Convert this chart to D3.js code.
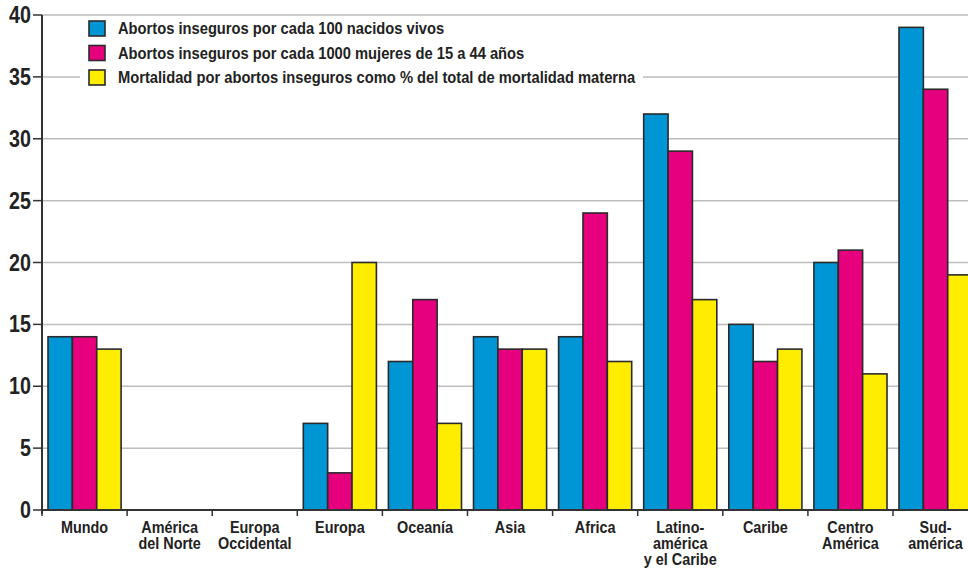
<!DOCTYPE html>
<html><head><meta charset="utf-8">
<script src="https://cdn.jsdelivr.net/npm/d3@7/dist/d3.min.js"></script>
<style>body{margin:0;background:#fff}svg{display:block}
text{font-family:"Liberation Sans Narrow","Arial Narrow","Liberation Sans",Arial,sans-serif;font-weight:bold;fill:#222}</style>
</head><body><svg id="c" width="968" height="568"></svg>
<script>
const categories = [["Mundo"],["América","del Norte"],["Europa","Occidental"],["Europa"],["Oceanía"],["Asia"],["Africa"],["Latino-","américa","y el Caribe"],["Caribe"],["Centro","América"],["Sud-","américa"]];
const seriesNames = ["Abortos inseguros por cada 100 nacidos vivos","Abortos inseguros por cada 1000 mujeres de 15 a 44 años","Mortalidad por abortos inseguros como % del total de mortalidad materna"];
const perBirths = [14,0,0,7,12,14,14,32,15,20,39];
const perWomen = [14,0,0,3,17,13,24,29,12,21,34];
const mortality = [13,0,0,20,7,13,12,17,13,11,19];
const colors = ["#0096d6","#e6007e","#ffed00"];
const yTicks = [0,5,10,15,20,25,30,35,40];

const series = [perBirths, perWomen, mortality];
const svg = d3.select("#c");
const x0 = 42, bandW = 85.1;
const x = d3.scaleBand().domain(d3.range(categories.length)).range([x0, x0 + bandW*categories.length]).paddingInner(0).paddingOuter(0);
const xi = d3.scaleBand().domain([0,1,2]).range([6, bandW-6]).padding(0);
const y = d3.scaleLinear().domain([0,40]).range([510,15]);
const sx = 0.9;

// gridlines
svg.append("g").selectAll("line").data(yTicks.filter(d=>d>0)).join("line")
  .attr("x1",x0).attr("x2",968).attr("y1",d=>y(d)).attr("y2",d=>y(d))
  .attr("stroke","#bdbdbd").attr("stroke-width",1.5);

// bars
const g = svg.append("g");
categories.forEach((c,i)=>{
  series.forEach((s,j)=>{
    if(s[i] <= 0) return;
    g.append("rect").attr("x", x(i)+xi(j)).attr("y", y(s[i]))
      .attr("width", xi.bandwidth()).attr("height", y(0)-y(s[i]))
      .attr("fill", colors[j]).attr("stroke","#2a2a2a").attr("stroke-width",1.6);
  });
});

// y axis
const ya = svg.append("g");
ya.append("line").attr("x1",x0).attr("x2",x0).attr("y1",y(40)).attr("y2",y(0)+4).attr("stroke","#333").attr("stroke-width",2);
ya.selectAll("line.t").data(yTicks).join("line").attr("class","t")
  .attr("x1",33).attr("x2",x0).attr("y1",d=>y(d)).attr("y2",d=>y(d)).attr("stroke","#333").attr("stroke-width",1.5);
ya.selectAll("text").data(yTicks).join("text")
  .attr("transform",d=>`translate(31,${y(d)+8}) scale(0.82,1)`).attr("text-anchor","end")
  .style("font-size","24px").text(d=>d);

// x axis
const xa = svg.append("g");
xa.append("line").attr("x1",x0).attr("x2",968).attr("y1",y(0)).attr("y2",y(0)).attr("stroke","#333").attr("stroke-width",2);
xa.selectAll("line.t").data(d3.range(categories.length+1)).join("line").attr("class","t")
  .attr("x1",i=>x0+i*bandW).attr("x2",i=>x0+i*bandW).attr("y1",y(0)).attr("y2",y(0)+6).attr("stroke","#333").attr("stroke-width",1.5);
categories.forEach((c,i)=>{
  const t = xa.append("text").attr("transform",`translate(${x(i)+bandW/2},533) scale(${sx},1)`).attr("text-anchor","middle").style("font-size","16px");
  c.forEach((ln,k)=>t.append("tspan").attr("x",0).attr("dy", k===0?0:16).text(ln));
});

// legend
const lg = svg.append("g");
lg.append("rect").attr("x",80).attr("y",18).attr("width",563).attr("height",72).attr("fill","#fff");
seriesNames.forEach((n,j)=>{
  const yy = 21 + j*24.5;
  lg.append("rect").attr("x",89).attr("y",yy).attr("width",16).attr("height",15).attr("fill",colors[j]).attr("stroke","#2a2a2a").attr("stroke-width",1.6);
  lg.append("text").attr("transform",`translate(118,${yy+13}) scale(0.92,1)`).style("font-size","16px").text(n);
});
</script></body></html>
